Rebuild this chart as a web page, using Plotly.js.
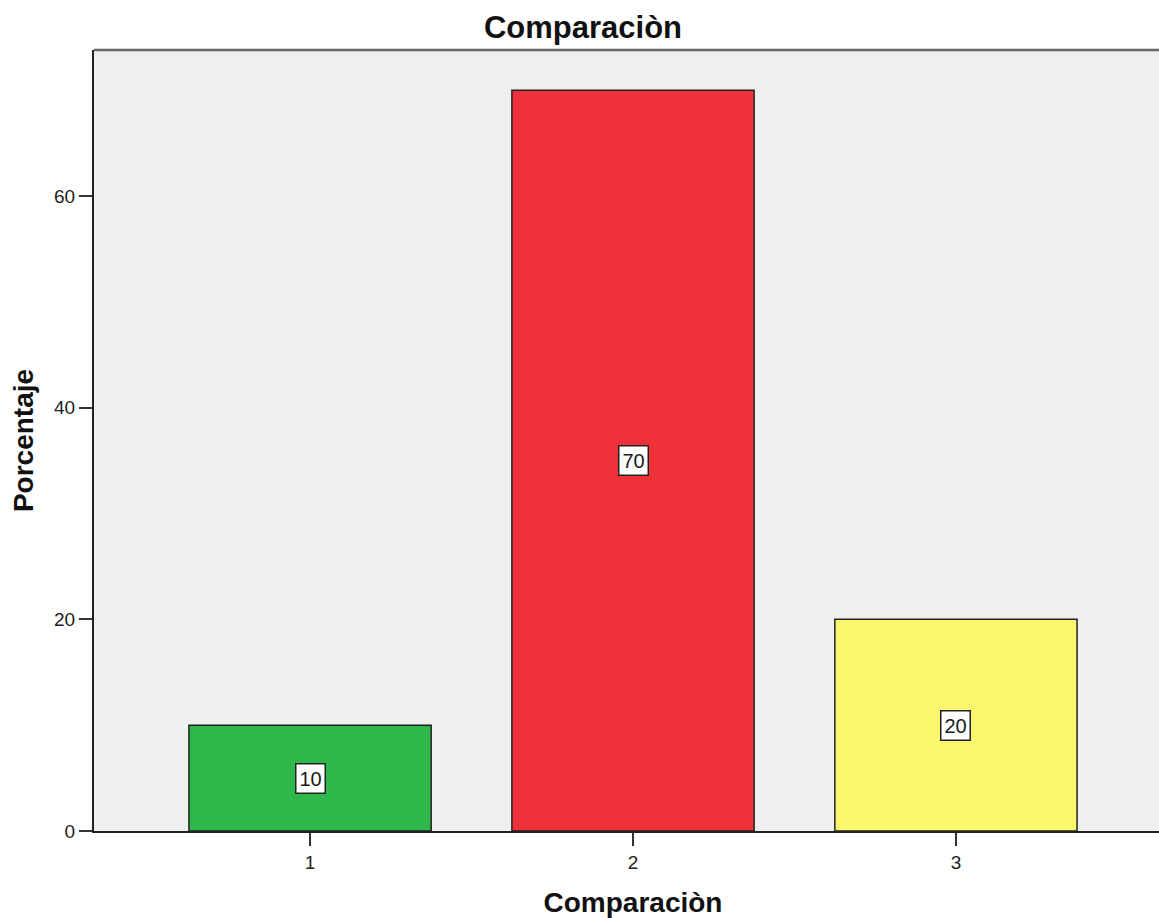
<!DOCTYPE html>
<html>
<head>
<meta charset="utf-8">
<script src="https://cdn.plot.ly/plotly-3.0.1.min.js"></script>
<style>
  html, body { margin: 0; padding: 0; overflow: hidden; background: #fff; }
  #chart { width: 1175px; height: 918px; }
</style>
</head>
<body>
<div id="chart"></div>
<script>
const categories = [1, 2, 3];
const tickLabels = ["1", "2", "3"];
const values = [10, 70, 20];
const barColors = ["#2eb84a", "#ef3139", "#faf76f"];

const fontFam = "Liberation Sans, Arial, sans-serif";

const trace = {
  type: "bar",
  x: categories,
  y: values,
  width: 0.75,
  marker: { color: barColors, line: { color: "#222222", width: 1.5 } },
  hoverinfo: "x+y"
};

const annotations = categories.map((c, i) => ({
  x: c,
  y: values[i] / 2,
  xref: "x",
  yref: "y",
  text: String(values[i]),
  showarrow: false,
  font: { family: fontFam, size: 20, color: "#1a1a1a" },
  bgcolor: "#ffffff",
  bordercolor: "#222222",
  borderwidth: 1.5,
  borderpad: 3
}));

const layout = {
  width: 1175,
  height: 918,
  margin: { l: 94, r: 3, t: 50, b: 87 },
  paper_bgcolor: "#ffffff",
  plot_bgcolor: "#efefef",
  showlegend: false,
  title: {
    text: "<b>Comparaciòn</b>",
    font: { family: fontFam, size: 31, color: "#111" },
    x: 583 / 1175,
    xanchor: "center",
    y: 1 - 27 / 918,
    yanchor: "middle",
    xref: "container",
    yref: "container"
  },
  xaxis: {
    range: [0.331, 3.669],
    tickvals: categories,
    ticktext: tickLabels,
    ticks: "outside",
    ticklen: 13,
    tickwidth: 2,
    tickcolor: "#333",
    tickfont: { family: fontFam, size: 19, color: "#222" },
    showline: true,
    linecolor: "#222",
    linewidth: 2,
    showgrid: false,
    zeroline: false,
    title: {
      text: "<b>Comparaciòn</b>",
      font: { family: fontFam, size: 28, color: "#111" },
      standoff: 22
    }
  },
  yaxis: {
    range: [0, 73.8],
    tickvals: [0, 20, 40, 60],
    ticks: "outside",
    ticklen: 13,
    tickwidth: 2,
    tickcolor: "#333",
    tickfont: { family: fontFam, size: 19, color: "#222" },
    showline: true,
    linecolor: "#222",
    linewidth: 2,
    showgrid: false,
    zeroline: false,
    title: {
      text: "<b>Porcentaje</b>",
      font: { family: fontFam, size: 28, color: "#111" },
      standoff: 12
    }
  },
  shapes: [{
    type: "line", xref: "paper", yref: "paper",
    x0: 0, x1: 1, y0: 1, y1: 1,
    line: { color: "#666", width: 2.5 }
  }],
  annotations: annotations
};

Plotly.newPlot("chart", [trace], layout, { displayModeBar: false, staticPlot: true });
</script>
</body>
</html>
